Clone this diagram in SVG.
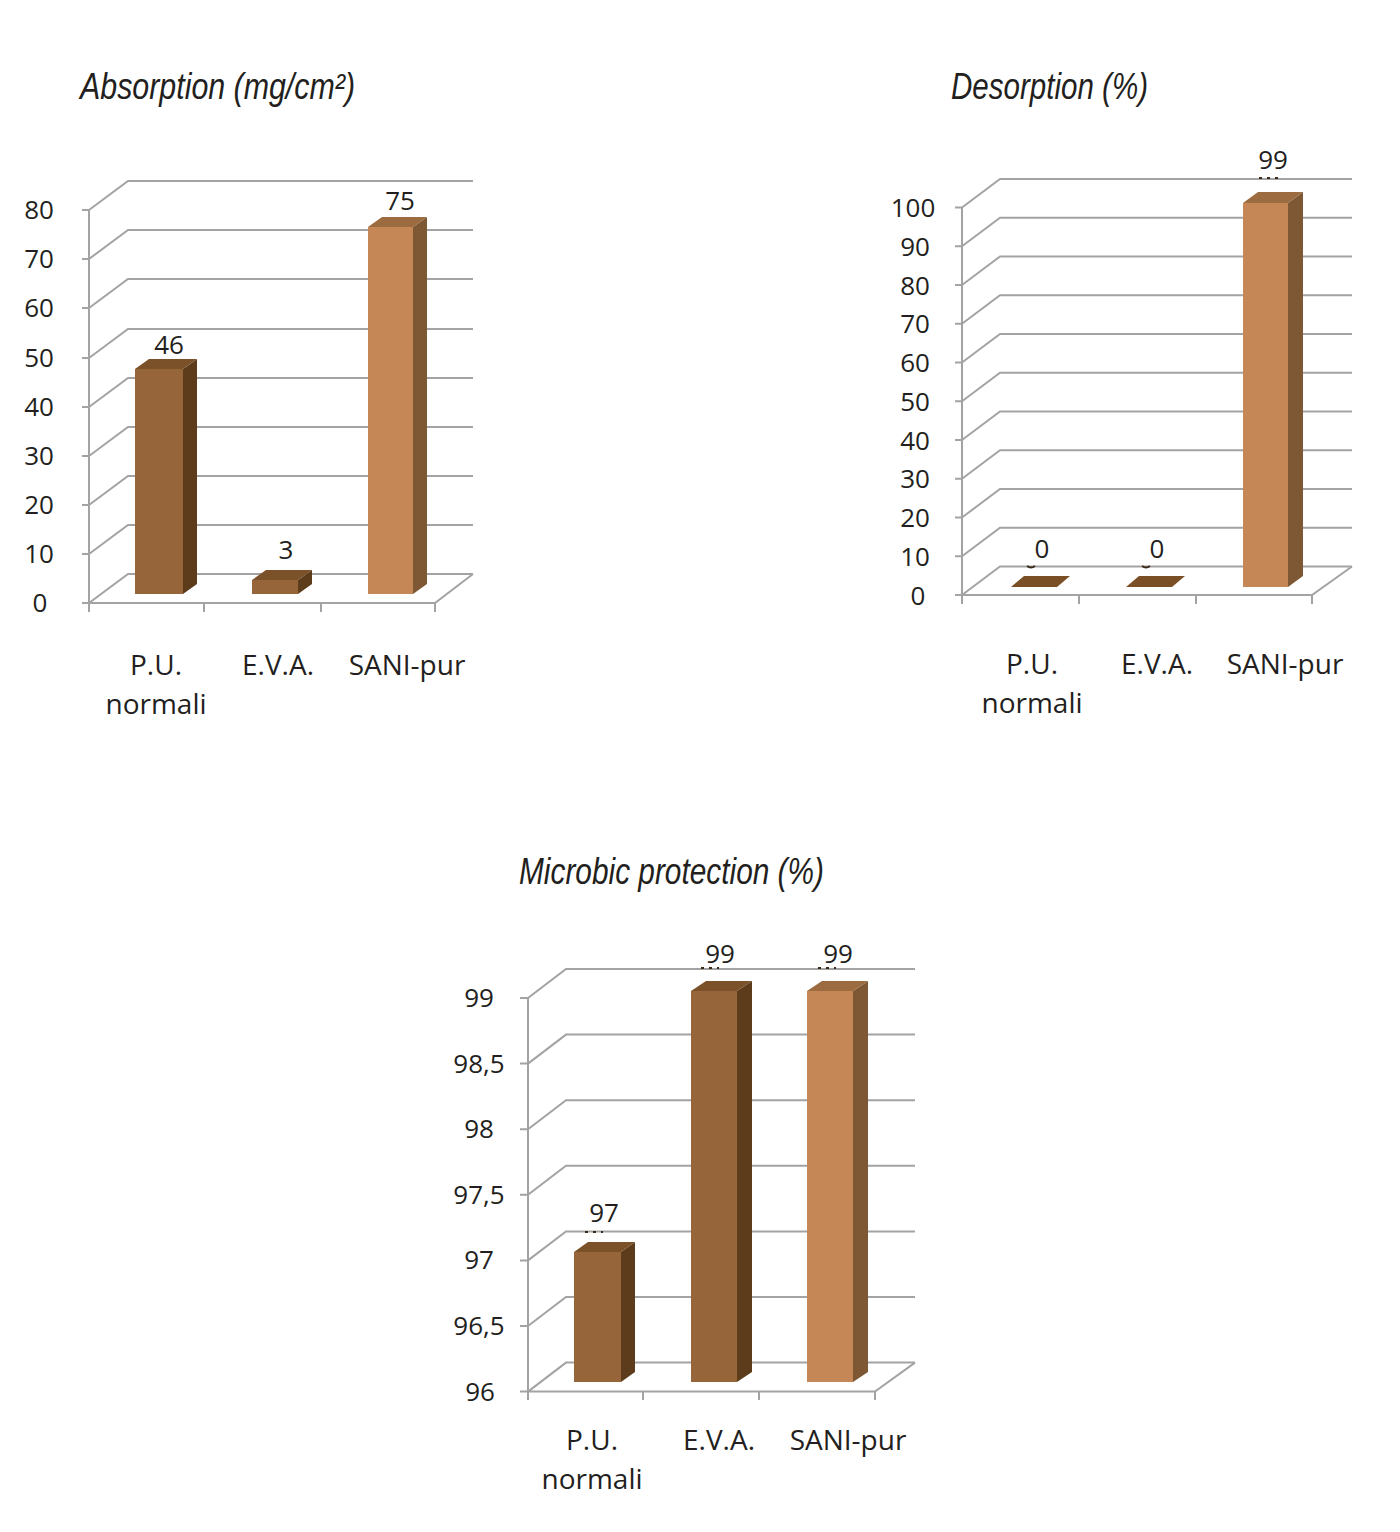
<svg xmlns="http://www.w3.org/2000/svg" width="1400" height="1532" viewBox="0 0 1400 1532">
<style>
.g{stroke:#A3A3A3;stroke-width:2;fill:none}
.t{font-family:"Open Sans","Noto Sans","Liberation Sans",sans-serif;fill:#231F20}
.ax{font-size:26px;text-anchor:middle}
.cat{font-size:28px;text-anchor:middle}
.val{font-size:26px;text-anchor:middle}
.ttl{font-family:"Liberation Sans","Open Sans",sans-serif;font-style:italic;font-size:36px;fill:#231F20}
.df{fill:#966539}.ds{fill:#5C3C1B}.dt{fill:#7B5129}
.lf{fill:#C58756}.ls{fill:#7E5834}.lt{fill:#9C6C40}
.flat{fill:#7A4F25}
.ld{stroke:#3A2A1A;stroke-width:2;stroke-dasharray:3 5;fill:none}
</style>
<rect width="1400" height="1532" fill="#FFFFFF"/>

<!-- Chart 1: Absorption -->
<g id="chart-absorption">
  <text class="ttl" x="80" y="99" textLength="275" lengthAdjust="spacingAndGlyphs">Absorption (mg/cm²)</text>
  <g id="abs-grid" class="g">
    <path d="M89,210 V612 M82,210 H89 M82,259 H89 M82,308 H89 M82,358 H89 M82,407 H89 M82,456 H89 M82,505 H89 M82,554 H89 M82,603 H89"/>
    <path d="M89,210 L128,181 H473 M89,259 L128,230 H473 M89,308 L128,279 H473 M89,358 L128,329 H473 M89,407 L128,378 H473 M89,456 L128,427 H473 M89,505 L128,476 H473 M89,554 L128,525 H473 M89,603 L128,574 H473"/>
    <path d="M89,603 H435 L473,574 M204,603 V612 M321,603 V612 M435,603 V612"/>
  </g>
  <text class="t ax" x="39" y="219">80</text>
  <text class="t ax" x="39" y="268">70</text>
  <text class="t ax" x="39" y="317">60</text>
  <text class="t ax" x="39" y="367">50</text>
  <text class="t ax" x="39" y="416">40</text>
  <text class="t ax" x="39" y="465">30</text>
  <text class="t ax" x="39" y="514">20</text>
  <text class="t ax" x="39" y="563">10</text>
  <text class="t ax" x="40" y="612">0</text>
  <g id="abs-bar-pu">
    <rect class="df" x="135" y="369" width="48" height="225"/>
    <polygon class="ds" points="183,594 197,584 197,359 183,369"/>
    <polygon class="dt" points="135,369 149,359 197,359 183,369"/>
  </g>
  <g id="abs-bar-eva">
    <rect class="df" x="252" y="580" width="46" height="14"/>
    <polygon class="ds" points="298,594 312,584 312,570 298,580"/>
    <polygon class="dt" points="252,580 266,570 312,570 298,580"/>
  </g>
  <g id="abs-bar-sani">
    <rect class="lf" x="368" y="227" width="45" height="367"/>
    <polygon class="ls" points="413,594 427,584 427,217 413,227"/>
    <polygon class="lt" points="368,227 382,217 427,217 413,227"/>
  </g>
  <text class="t val" x="169" y="354">46</text>
  <text class="t val" x="286" y="559">3</text>
  <text class="t val" x="400" y="210">75</text>
  <text class="t cat" x="156" y="675">P.U.</text>
  <text class="t cat" x="156" y="714">normali</text>
  <text class="t cat" x="278" y="675">E.V.A.</text>
  <text class="t cat" x="407" y="675">SANI-pur</text>
</g>

<!-- Chart 2: Desorption -->
<g id="chart-desorption">
  <text class="ttl" x="951" y="99" textLength="197" lengthAdjust="spacingAndGlyphs">Desorption (%)</text>
  <g id="des-grid" class="g">
    <path d="M962,207.5 V604 M955,207.5 H962 M955,246.25 H962 M955,285 H962 M955,323.75 H962 M955,362.5 H962 M955,401.25 H962 M955,440 H962 M955,478.75 H962 M955,517.5 H962 M955,556.25 H962 M955,595 H962"/>
    <path d="M962,207.5 L1000,179 H1352 M962,246.25 L1000,217.75 H1352 M962,285 L1000,256.5 H1352 M962,323.75 L1000,295.25 H1352 M962,362.5 L1000,334 H1352 M962,401.25 L1000,372.75 H1352 M962,440 L1000,411.5 H1352 M962,478.75 L1000,450.25 H1352 M962,517.5 L1000,489 H1352 M962,556.25 L1000,527.75 H1352 M962,595 L1000,566.5 H1352"/>
    <path d="M962,595 H1312 L1352,566.5 M1079,595 V604 M1196,595 V604 M1312,595 V604"/>
  </g>
  <text class="t ax" x="913" y="217">100</text>
  <text class="t ax" x="915" y="256">90</text>
  <text class="t ax" x="915" y="295">80</text>
  <text class="t ax" x="915" y="333">70</text>
  <text class="t ax" x="915" y="372">60</text>
  <text class="t ax" x="915" y="411">50</text>
  <text class="t ax" x="915" y="450">40</text>
  <text class="t ax" x="915" y="488">30</text>
  <text class="t ax" x="915" y="527">20</text>
  <text class="t ax" x="915" y="566">10</text>
  <text class="t ax" x="918" y="605">0</text>
  <g id="des-bar-pu">
    <polygon class="flat" points="1011,587 1057,587 1070,576 1024,576"/>
  </g>
  <g id="des-bar-eva">
    <polygon class="flat" points="1126,587 1172,587 1185,576 1139,576"/>
  </g>
  <g id="des-bar-sani">
    <rect class="lf" x="1243" y="203" width="45" height="384"/>
    <polygon class="ls" points="1288,587 1303,576 1303,192 1288,203"/>
    <polygon class="lt" points="1243,203 1258,192 1303,192 1288,203"/>
  </g>
  <g id="des-leaders">
    <path d="M1027,566 Q1031,569 1035,566 M1142,566 Q1146,569 1150,566" stroke="#3A2A1A" stroke-width="2" fill="none"/>
    <path class="ld" d="M1259,178 H1278"/>
  </g>
  <text class="t val" x="1042" y="558">0</text>
  <text class="t val" x="1157" y="558">0</text>
  <text class="t val" x="1273" y="169">99</text>
  <text class="t cat" x="1032" y="674">P.U.</text>
  <text class="t cat" x="1032" y="713">normali</text>
  <text class="t cat" x="1157" y="674">E.V.A.</text>
  <text class="t cat" x="1285" y="674">SANI-pur</text>
</g>

<!-- Chart 3: Microbic protection -->
<g id="chart-microbic">
  <text class="ttl" x="519" y="884" textLength="305" lengthAdjust="spacingAndGlyphs">Microbic protection (%)</text>
  <g id="mic-grid" class="g">
    <path d="M528,998 V1400 M520,998 H528 M520,1063.6 H528 M520,1129.2 H528 M520,1194.8 H528 M520,1260.4 H528 M520,1326 H528 M520,1391.6 H528"/>
    <path d="M528,998 L566,969 H915 M528,1063.6 L566,1034.6 H915 M528,1129.2 L566,1100.2 H915 M528,1194.8 L566,1165.8 H915 M528,1260.4 L566,1231.4 H915 M528,1326 L566,1297 H915 M528,1391.6 L566,1362.6 H915"/>
    <path d="M528,1391.6 H875 L915,1362.6 M643,1391.6 V1400 M759,1391.6 V1400 M875,1391.6 V1400"/>
  </g>
  <text class="t ax" x="479" y="1007">99</text>
  <text class="t ax" x="479" y="1073">98,5</text>
  <text class="t ax" x="479" y="1138">98</text>
  <text class="t ax" x="479" y="1204">97,5</text>
  <text class="t ax" x="479" y="1269">97</text>
  <text class="t ax" x="479" y="1335">96,5</text>
  <text class="t ax" x="480" y="1401">96</text>
  <g id="mic-bar-pu">
    <rect class="df" x="574" y="1252" width="47" height="130"/>
    <polygon class="ds" points="621,1382 635,1372 635,1242 621,1252"/>
    <polygon class="dt" points="574,1252 588,1242 635,1242 621,1252"/>
  </g>
  <g id="mic-bar-eva">
    <rect class="df" x="691" y="991" width="46" height="391"/>
    <polygon class="ds" points="737,1382 752,1372 752,981 737,991"/>
    <polygon class="dt" points="691,991 706,981 752,981 737,991"/>
  </g>
  <g id="mic-bar-sani">
    <rect class="lf" x="807" y="991" width="46" height="391"/>
    <polygon class="ls" points="853,1382 868,1372 868,981 853,991"/>
    <polygon class="lt" points="807,991 822,981 868,981 853,991"/>
  </g>
  <g id="mic-leaders">
    <path class="ld" d="M585,1232 H603"/>
    <path class="ld" d="M701,968 H719"/>
    <path class="ld" d="M818,968 H836"/>
  </g>
  <text class="t val" x="604" y="1222">97</text>
  <text class="t val" x="720" y="963">99</text>
  <text class="t val" x="838" y="963">99</text>
  <text class="t cat" x="592" y="1450">P.U.</text>
  <text class="t cat" x="592" y="1489">normali</text>
  <text class="t cat" x="719" y="1450">E.V.A.</text>
  <text class="t cat" x="848" y="1450">SANI-pur</text>
</g>
</svg>
